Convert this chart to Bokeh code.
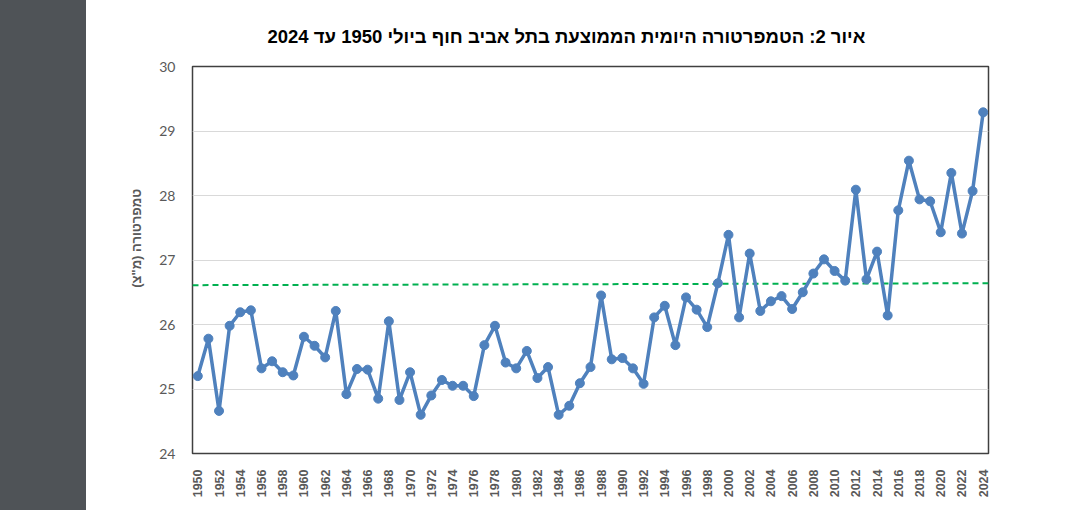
import math
from bokeh.plotting import figure
from bokeh.models import Range1d, FixedTicker, Div, ColumnDataSource
from bokeh.layouts import row
from bokeh.embed import file_html
from bokeh.resources import INLINE

# ---- data ----
years = list(range(1950, 2025))
temps = [25.20, 25.78, 24.66, 25.98, 26.19, 26.22, 25.32, 25.43, 25.26, 25.21,
         25.81, 25.67, 25.49, 26.21, 24.92, 25.31, 25.30, 24.85, 26.05, 24.83,
         25.26, 24.60, 24.90, 25.14, 25.05, 25.05, 24.89, 25.68, 25.98, 25.41,
         25.32, 25.59, 25.17, 25.34, 24.60, 24.74, 25.09, 25.34, 26.45, 25.46,
         25.48, 25.32, 25.08, 26.11, 26.29, 25.68, 26.42, 26.23, 25.96, 26.64,
         27.39, 26.11, 27.10, 26.21, 26.36, 26.44, 26.24, 26.50, 26.79, 27.01,
         26.83, 26.68, 28.09, 26.70, 27.13, 26.14, 27.77, 28.54, 27.94, 27.91,
         27.43, 28.35, 27.41, 28.07, 29.29]
reference_line = [26.61, 26.64]
x_tick_years = list(range(1950, 2025, 2))
y_ticks = [24, 25, 26, 27, 28, 29, 30]

title_text = "איור 2: הטמפרטורה היומית הממוצעת בתל אביב חוף ביולי 1950 עד 2024"
y_label_text = 'טמפרטורה (מ"צ)'

LABEL_GRAY = "#595959"

p = figure(width=970, height=500, output_backend="svg", toolbar_location=None,
           x_range=Range1d(years[0] - 0.5, years[-1] + 0.5),
           y_range=Range1d(y_ticks[0], y_ticks[-1]),
           min_border_left=106, min_border_right=68,
           min_border_top=66, min_border_bottom=46, margin=0)

p.title.text = title_text
p.title.align = "left"
p.title.offset = 75
p.title.standoff = 40
p.title.text_font = "Liberation Sans"
p.title.text_font_size = "18.5px"
p.title.text_font_style = "bold"
p.title.text_color = "#000000"

p.outline_line_color = "#404040"
p.outline_line_width = 1.5
p.background_fill_color = "white"
p.border_fill_color = "white"

p.xgrid.grid_line_color = None
p.ygrid.grid_line_color = "#d9d9d9"
p.ygrid.grid_line_width = 1

p.xaxis.ticker = FixedTicker(ticks=x_tick_years)
p.xaxis.major_label_orientation = math.pi / 2
p.xaxis.major_label_text_font = "Liberation Sans"
p.xaxis.major_label_text_font_style = "bold"
p.xaxis.major_label_text_font_size = "12.5px"
p.xaxis.major_label_text_color = LABEL_GRAY
p.xaxis.major_label_standoff = 10
p.xaxis.axis_line_color = None
p.xaxis.major_tick_line_color = None
p.xaxis.minor_tick_line_color = None

p.yaxis.ticker = FixedTicker(ticks=y_ticks)
p.yaxis.major_label_text_font = "Lato"
p.yaxis.major_label_text_font_size = "14px"
p.yaxis.major_label_text_color = LABEL_GRAY
p.yaxis.major_label_standoff = 11
p.yaxis.axis_line_color = None
p.yaxis.major_tick_line_color = None
p.yaxis.minor_tick_line_color = None
p.yaxis.axis_label = "\u00a0" * 12 + y_label_text
p.yaxis.axis_label_text_font = "Liberation Sans"
p.yaxis.axis_label_text_font_style = "bold"
p.yaxis.axis_label_text_font_size = "13px"
p.yaxis.axis_label_text_color = LABEL_GRAY
p.yaxis.axis_label_standoff = 12

src = ColumnDataSource(dict(year=years, temp=temps))

p.line([years[0] - 0.5, years[-1] + 0.5], reference_line,
       line_color="#00b050", line_width=2, line_dash="6 4")

p.line("year", "temp", source=src, line_color="#4f81bd", line_width=3.5)
p.scatter("year", "temp", source=src, size=9, fill_color="#4f81bd",
          line_color="#4f81bd")

side = Div(text="", width=86, height=510, margin=0,
           styles={"background-color": "#4f5357"})

layout = row(side, p, spacing=0)

open("out.html", "w").write(file_html(layout, INLINE))
